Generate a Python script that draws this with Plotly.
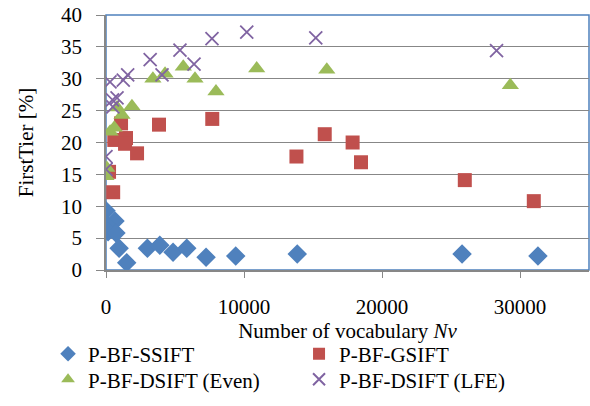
import plotly.graph_objects as go

# Data
ssift_x = [0, 650, 0, 150, 720, 950, 1500, 3000, 3900, 4860, 5850, 7250, 9400, 13860, 25800, 31300]
ssift_y = [9.3, 7.7, 7.2, 6.0, 5.8, 3.4, 1.15, 3.4, 3.9, 2.8, 3.4, 2.0, 2.2, 2.5, 2.5, 2.2]

gsift_x = [520, 220, 1090, 600, 1450, 1380, 2250, 3840, 7700, 13800, 15850, 17870, 18480, 26000, 31000]
gsift_y = [12.2, 15.4, 23.0, 20.4, 20.7, 19.8, 18.3, 22.8, 23.7, 17.8, 21.3, 20.0, 16.9, 14.1, 10.8]

even_x = [0, 60, 300, 600, 1160, 800, 1880, 3400, 4280, 5600, 6450, 7970, 10920, 16000, 29300]
even_y = [14.7, 16.0, 21.7, 22.3, 24.3, 25.5, 25.7, 30.0, 30.8, 31.9, 30.0, 28.0, 31.6, 31.4, 29.0]

lfe_x = [0, 0, 290, 470, 800, 500, 1250, 1570, 3200, 4060, 5360, 6380, 7680, 10200, 15200, 28300]
lfe_y = [17.8, 15.8, 29.5, 26.7, 27.0, 25.6, 29.8, 30.6, 33.0, 30.6, 34.5, 32.3, 36.3, 37.3, 36.4, 34.4]

x_ticks = [0, 10000, 20000, 30000]
names = ["P-BF-SSIFT", "P-BF-GSIFT", "P-BF-DSIFT (Even)", "P-BF-DSIFT (LFE)"]

FONT = "Liberation Serif"
FS = 21

fig = go.Figure()
fig.add_trace(go.Scatter(x=ssift_x, y=ssift_y, mode="markers", name=names[0], legend="legend",
                         marker=dict(symbol="diamond", size=15, color="#4F81BD")))
fig.add_trace(go.Scatter(x=gsift_x, y=gsift_y, mode="markers", name=names[1], legend="legend",
                         marker=dict(symbol="square", size=14, color="#C0504D")))
fig.add_trace(go.Scatter(x=even_x, y=even_y, mode="markers", name=names[2], legend="legend2",
                         marker=dict(symbol="triangle-up", size=15, color="#9BBB59")))
fig.add_trace(go.Scatter(x=lfe_x, y=lfe_y, mode="markers", name=names[3], legend="legend2",
                         marker=dict(symbol="x-thin", size=13, color="#8064A2",
                                     line=dict(width=1.8, color="#8064A2"))))

leg_common = dict(orientation="h", xanchor="left", yanchor="middle",
                  entrywidth=206, entrywidthmode="pixels", font=dict(family=FONT, size=FS),
                  itemsizing="constant", bgcolor="rgba(0,0,0,0)")

fig.update_layout(
    width=590, height=406,
    margin=dict(l=106, r=1, t=15, b=136),
    paper_bgcolor="white", plot_bgcolor="white",
    font=dict(family=FONT, size=FS, color="black"),
    showlegend=True,
    legend=dict(x=-0.12, y=-0.33, **leg_common),
    legend2=dict(x=-0.12, y=-0.43, **leg_common),
    shapes=[dict(type="rect", xref="paper", yref="paper", x0=0, y0=0, x1=1, y1=1,
                 line=dict(color="#4F81BD", width=1.5), layer="below")],
)
fig.update_xaxes(range=[0, 35000], tickvals=x_ticks, ticktext=[str(v) for v in x_ticks],
                 tickfont=dict(family=FONT, size=FS), ticklabelstandoff=11,
                 ticks="outside", ticklen=6, tickcolor="#878787",
                 showline=True, linecolor="#878787", linewidth=1.5,
                 showgrid=False, zeroline=False,
                 title=dict(text="Number of vocabulary <i>Nv</i>", standoff=0,
                            font=dict(family=FONT, size=FS)))
fig.update_yaxes(range=[0, 40], dtick=5, ticks="outside", ticklen=8, tickcolor="#878787",
                 tickfont=dict(family=FONT, size=FS), ticklabelstandoff=10,
                 showline=True, linecolor="#878787", linewidth=1.5,
                 showgrid=True, gridcolor="#878787", gridwidth=1.2, zeroline=False,
                 title=dict(text="FirstTier [%]", standoff=22, font=dict(family=FONT, size=FS)))

fig.write_html("out.html")
